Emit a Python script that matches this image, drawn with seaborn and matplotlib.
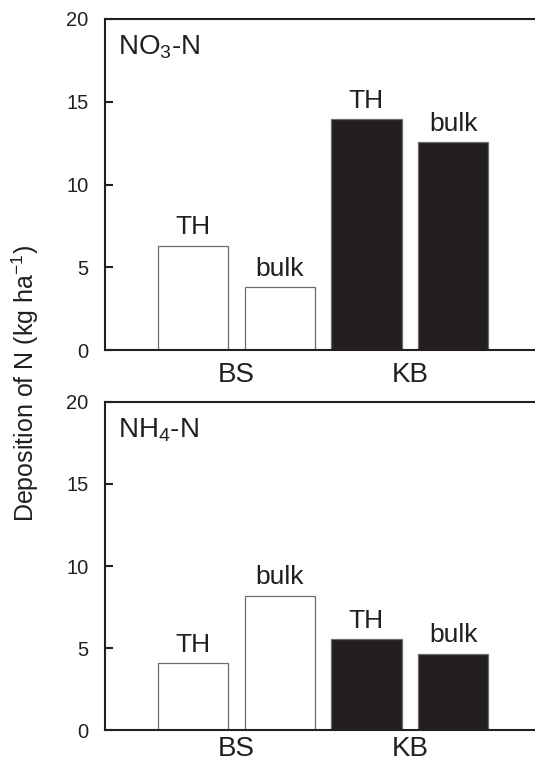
import matplotlib
matplotlib.use("Agg")
import matplotlib.pyplot as plt
import seaborn as sns
import pandas as pd

# ---- data ----
sites = ["BS", "BS", "KB", "KB"]
samplers = ["TH", "bulk", "TH", "bulk"]
bar_ids = ["BS-TH", "BS-bulk", "KB-TH", "KB-bulk"]
no3_values = [6.3, 3.8, 13.95, 12.55]
nh4_values = [4.1, 8.2, 5.55, 4.65]
panel_titles = ["NO$_3$-N", "NH$_4$-N"]
yticks = [0, 5, 10, 15, 20]
site_labels = ["BS", "KB"]

sns.set_style("ticks")
plt.rcParams["font.family"] = ["Liberation Sans", "DejaVu Sans"]
ink = "#231f20"
plt.rcParams["text.color"] = ink
plt.rcParams["axes.labelcolor"] = ink
plt.rcParams["xtick.color"] = ink
plt.rcParams["ytick.color"] = ink
plt.rcParams["axes.edgecolor"] = ink
plt.rcParams["mathtext.fontset"] = "custom"
plt.rcParams["mathtext.rm"] = "Liberation Sans"
plt.rcParams["mathtext.it"] = "Liberation Sans"

W, H = 535, 763
fig = plt.figure(figsize=(W / 100, H / 100), dpi=100)

left_px, right_px = 105, 545
panels = [(19, 350), (402, 730)]
xpads = [9, 4.5]
spacing = 86.7
xmin = -1.015
xmax = xmin + (right_px - left_px) / spacing

palette = {"BS": "white", "KB": ink}

for (top_px, bot_px), vals, title, xpad in zip(panels, [no3_values, nh4_values], panel_titles, xpads):
    ax = fig.add_axes([left_px / W, 1 - bot_px / H, (right_px - left_px) / W, (bot_px - top_px) / H])
    df = pd.DataFrame({"id": bar_ids, "site": sites, "sampler": samplers, "value": vals})
    sns.barplot(data=df, x="id", y="value", hue="site", palette=palette, order=bar_ids,
                dodge=False, width=0.81, edgecolor="#6d6b6c", linewidth=0.9, legend=False,
                saturation=1, ax=ax, errorbar=None)
    for cont in ax.containers:
        lab = []
        for patch in cont.patches:
            xc = patch.get_x() + patch.get_width() / 2
            idx = int(round(xc))
            lab.append(samplers[idx])
        ax.bar_label(cont, labels=lab, padding=4.5, fontsize=19, color=ink)
    ax.set_xlim(xmin, xmax)
    ax.set_ylim(0, 20)
    ax.set_yticks(yticks)
    ax.set_xticks([0.5, 2.5])
    ax.set_xticklabels(site_labels, fontsize=20)
    ax.tick_params(axis="x", length=0, pad=xpad)
    ax.tick_params(axis="y", direction="in", length=6, width=1.5, labelsize=14.5, pad=12)
    ax.set_xlabel("")
    ax.set_ylabel("")
    for s in ["left", "bottom", "top"]:
        ax.spines[s].set_linewidth(1.5)
    ax.spines["right"].set_visible(False)
    ax.text(0.03, 0.955, title, transform=ax.transAxes, fontsize=20, va="top", ha="left", color=ink)

fig.text(25 / W, 1 - 383 / H, "Deposition of N (kg ha$^{-1}$)", rotation=90,
         ha="center", va="center", fontsize=18, color=ink)

fig.savefig("out.png", dpi=100)
